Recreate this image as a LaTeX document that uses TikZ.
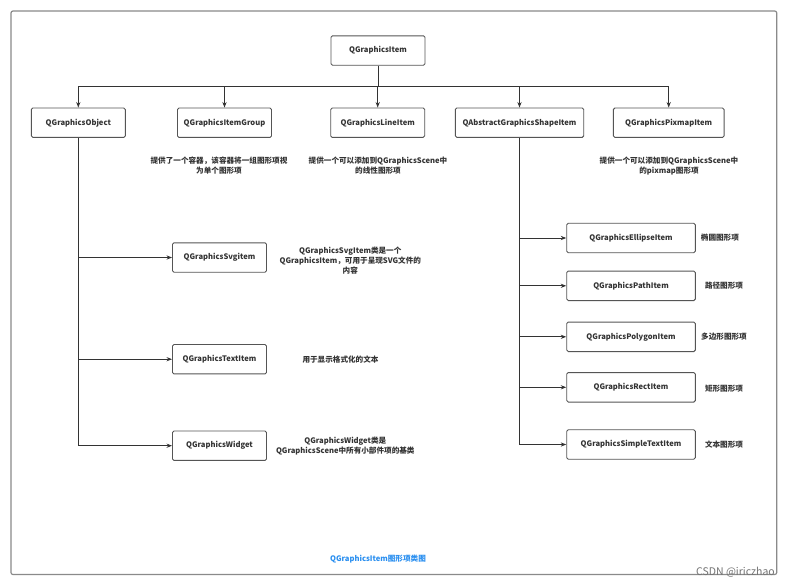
\documentclass[tikz,border=0pt]{standalone}
\usepackage{fontspec}
\setmainfont{Noto Sans CJK SC}
\usetikzlibrary{arrows.meta}
\definecolor{linec}{HTML}{333333}
\definecolor{boxc}{HTML}{555555}
\definecolor{textc}{HTML}{333333}
\definecolor{capc}{HTML}{2A8FF0}
\definecolor{framec}{HTML}{8A8A8A}
\begin{document}
\begin{tikzpicture}[x=1pt,y=-1pt,
  cls/.style={draw=boxc,line width=0.9pt,rounded corners=1.5pt,fill=white,
    font=\fontsize{7.6}{9}\selectfont\bfseries,text=textc,inner sep=0pt},
  w94/.style={minimum width=94pt,minimum height=29.4pt},
  wshape/.style={minimum width=128.4pt,minimum height=29.4pt},
  wpix/.style={minimum width=110.7pt,minimum height=29.4pt},
  wright/.style={minimum width=128.6pt,minimum height=29.5pt},
  desc/.style={font=\fontsize{7.6}{10}\selectfont\bfseries,text=textc,align=center,inner sep=0pt},
  conn/.style={draw=linec,line width=1pt},
  arr/.style={conn,-{Stealth[length=5.5pt,width=4.2pt]}}]
\useasboundingbox (0,0) rectangle (789,587);
\fill[white] (0,0) rectangle (789,587);
% frame
\draw[framec,line width=1.2pt,rounded corners=2pt] (11,11) rectangle (776.7,574.5);

% root
\node[cls,w94] (root) at (378,50.5) {QGraphicsItem};
\coordinate (bus) at (378,86.7);

% row 1
\node[cls,w94] (obj) at (78.3,122.7) {QGraphicsObject};
\node[cls,w94] (grp) at (224.5,122.7) {QGraphicsItemGroup};
\node[cls,w94] (line) at (377.7,122.7) {QGraphicsLineItem};
\node[cls,wshape] (shape) at (519.5,122.7) {QAbstractGraphicsShapeItem};
\node[cls,wpix] (pix) at (668.7,122.7) {QGraphicsPixmapItem};

\draw[conn] (root.south) -- (bus);
\draw[conn] (obj.north |- bus) -- (pix.north |- bus);
\draw[arr] (obj.north |- bus) -- (obj.north);
\draw[arr] (grp.north |- bus) -- (grp.north);
\draw[arr] (line.north |- bus) -- (line.north);
\draw[arr] (shape.north |- bus) -- (shape.north);
\draw[arr] (pix.north |- bus) -- (pix.north);

% descriptions row 1
\node[desc] (dgrp) at (219,165.7) {提供了一个容器，该容器将一组图形项视\\为单个图形项};
\node[desc] (dline) at (378,165.7) {提供一个可以添加到QGraphicsScene中\\的线性图形项};
\node[desc] (dpix) at (669,165.7) {提供一个可以添加到QGraphicsScene中\\的pixmap图形项};

% left subtree
\node[cls,w94] (svg) at (219.5,257.5) {QGraphicsSvgitem};
\node[cls,w94] (txt) at (219.5,359.2) {QGraphicsTextItem};
\node[cls,w94] (wid) at (219.5,445.7) {QGraphicsWidget};
\draw[conn] (obj.south) -- (obj.south |- wid.west);
\draw[arr] (obj.south |- svg.west) -- (svg.west);
\draw[arr] (obj.south |- txt.west) -- (txt.west);
\draw[arr] (obj.south |- wid.west) -- (wid.west);

\node[desc] (dsvg) at (350.3,260.8) {QGraphicsSvgItem类是一个\\QGraphicsItem，可用于呈现SVG文件的\\内容};
\node[desc] (dtxt) at (340.5,359.3) {用于显示格式化的文本};
\node[desc] (dwid) at (345.3,445.7) {QGraphicsWidget类是\\QGraphicsScene中所有小部件项的基类};

% right subtree
\node[cls,wright] (ell) at (631,238) {QGraphicsEllipseItem};
\node[cls,wright] (path) at (631,285.8) {QGraphicsPathItem};
\node[cls,wright] (poly) at (631,336.8) {QGraphicsPolygonItem};
\node[cls,wright] (rect) at (631,387.3) {QGraphicsRectItem};
\node[cls,wright] (simp) at (631,444.5) {QGraphicsSimpleTextItem};
\draw[conn] (shape.south) -- (shape.south |- simp.west);
\draw[arr] (shape.south |- ell.west) -- (ell.west);
\draw[arr] (shape.south |- path.west) -- (path.west);
\draw[arr] (shape.south |- poly.west) -- (poly.west);
\draw[arr] (shape.south |- rect.west) -- (rect.west);
\draw[arr] (shape.south |- simp.west) -- (simp.west);

\node[desc,anchor=west] (dell) at (700.7,237.7) {椭圆图形项};
\node[desc,anchor=west] (dpath) at (704.8,285.3) {路径图形项};
\node[desc,anchor=west] (dpoly) at (701,336.7) {多边形图形项};
\node[desc,anchor=west] (drect) at (704.8,389) {矩形图形项};
\node[desc,anchor=west] (dsimp) at (704.8,444.3) {文本图形项};

% caption
\node[font=\fontsize{7.6}{9}\selectfont\bfseries,text=capc,inner sep=0pt] (cap) at (378,559.5) {QGraphicsItem图形项类图};
% watermark
\node[font=\fontsize{10.5}{12}\selectfont,text=black!55,inner sep=0pt,anchor=east] (wm) at (775,572) {CSDN @iriczhao};
\end{tikzpicture}
\end{document}
